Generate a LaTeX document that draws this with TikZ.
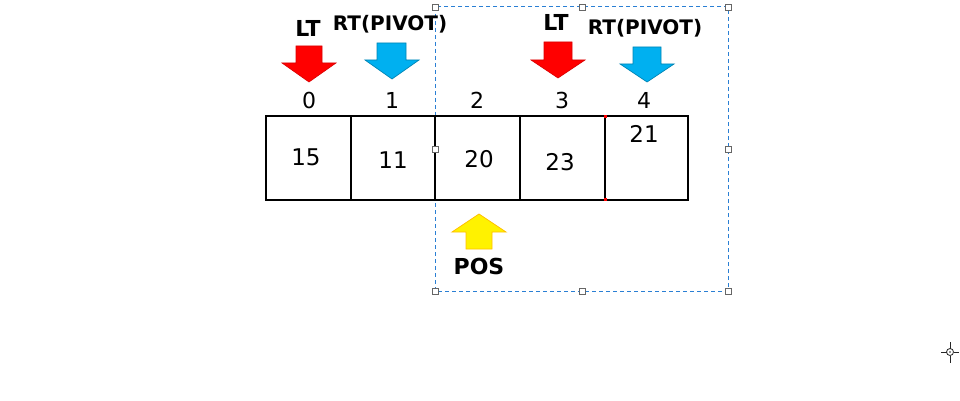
\documentclass[tikz,border=0pt]{standalone}
\usepackage{fontspec}
\setmainfont{DejaVu Sans}
\begin{document}
\begin{tikzpicture}[x=1pt,y=-1pt,
  cell/.style={draw=black,line width=2.3pt,minimum height=84pt,inner sep=0pt},
  num/.style={font=\fontsize{23}{23}\selectfont,inner sep=0pt},
  idx/.style={font=\fontsize{22}{22}\selectfont,inner sep=0pt},
  lbl/.style={font=\bfseries\fontsize{22}{22}\selectfont,inner sep=0pt},
  lblp/.style={font=\bfseries\fontsize{20}{20}\selectfont,inner sep=0pt},
  redarr/.style={fill=red,draw=red!85!black,line width=0.6pt,line join=miter},
  bluearr/.style={fill=cyanb,draw=cyanb!75!black,line width=0.7pt,line join=miter},
  yelarr/.style={fill=yellow,draw=orangeb,line width=0.8pt,line join=miter},
  selbox/.style={draw=selblue,line width=1pt,dash pattern=on 4pt off 3pt},
  handle/.style={draw=gray!80!black,fill=white,line width=0.8pt,minimum size=6pt,inner sep=0pt}]
\definecolor{cyanb}{HTML}{00B0F0}
\definecolor{orangeb}{HTML}{FFC000}
\definecolor{selblue}{HTML}{2A7FD4}
\useasboundingbox (0,0) rectangle (960,401);
\fill[white] (0,0) rectangle (960,401);

% selection box
\draw[selbox] (435,7) rectangle (728,291);

% cells
\node[cell,minimum width=85pt] (c0) at (308.5,158) {};
\node[cell,minimum width=84pt] (c1) at (393,158) {};
\node[cell,minimum width=85pt] (c2) at (477.5,158) {};
\node[cell,minimum width=85pt] (c3) at (562.5,158) {};
\node[cell,minimum width=83pt] (c4) at (646.5,158) {};
\fill[red] (604,115) rectangle (607,118);
\fill[red] (604,198) rectangle (607,201);

% values
\node[num] (n0) at (306,157) {15};
\node[num] (n1) at (393,160) {11};
\node[num] (n2) at (479,159) {20};
\node[num] (n3) at (560,162) {23};
\node[num] (n4) at (644,134) {21};

% indices
\node[idx] (i0) at (309,100) {0};
\node[idx] (i1) at (392,100) {1};
\node[idx] (i2) at (477,100) {2};
\node[idx] (i3) at (562,100) {3};
\node[idx] (i4) at (644,100) {4};

% labels
\node[lbl] (lt1) at (308,28) {LT};
\node[lblp] (rt1) at (390,24) {RT(PIVOT)};
\node[lbl] (lt2) at (556,22) {LT};
\node[lblp] (rt2) at (645,28) {RT(PIVOT)};
\node[lbl] (pos) at (479,266) {POS};

% arrows
\draw[redarr] (296,46) -- (322,46) -- (322,63) -- (336,63) -- (309,82) -- (282,63) -- (296,63) -- cycle;
\draw[bluearr] (377,43) -- (406,43) -- (406,60) -- (419,60) -- (392,79) -- (365,60) -- (377,60) -- cycle;
\draw[redarr] (544,42) -- (572,42) -- (572,60) -- (585,60) -- (558,78) -- (531,60) -- (544,60) -- cycle;
\draw[bluearr] (633,47) -- (661,47) -- (661,64) -- (674,64) -- (647,82) -- (620,64) -- (633,64) -- cycle;
\draw[yelarr] (466,249) -- (492,249) -- (492,232) -- (506,232) -- (479,214) -- (452,232) -- (466,232) -- cycle;

% selection handles
\foreach \p [count=\k] in {(435,7),(582,7),(728,7),(435,149),(728,149),(435,291),(582,291),(728,291)}
  \node[handle] (h\k) at \p {};

% cursor
\draw[black!85,line width=1pt] (941,352) -- (946.5,352) (953.5,352) -- (959,352)
  (950,342) -- (950,348.5) (950,355.5) -- (950,363);
\draw[black!85,line width=0.8pt] (950,352) circle (3.5pt);
\fill[black!85] (950,352) circle (0.8pt);
\end{tikzpicture}
\end{document}
